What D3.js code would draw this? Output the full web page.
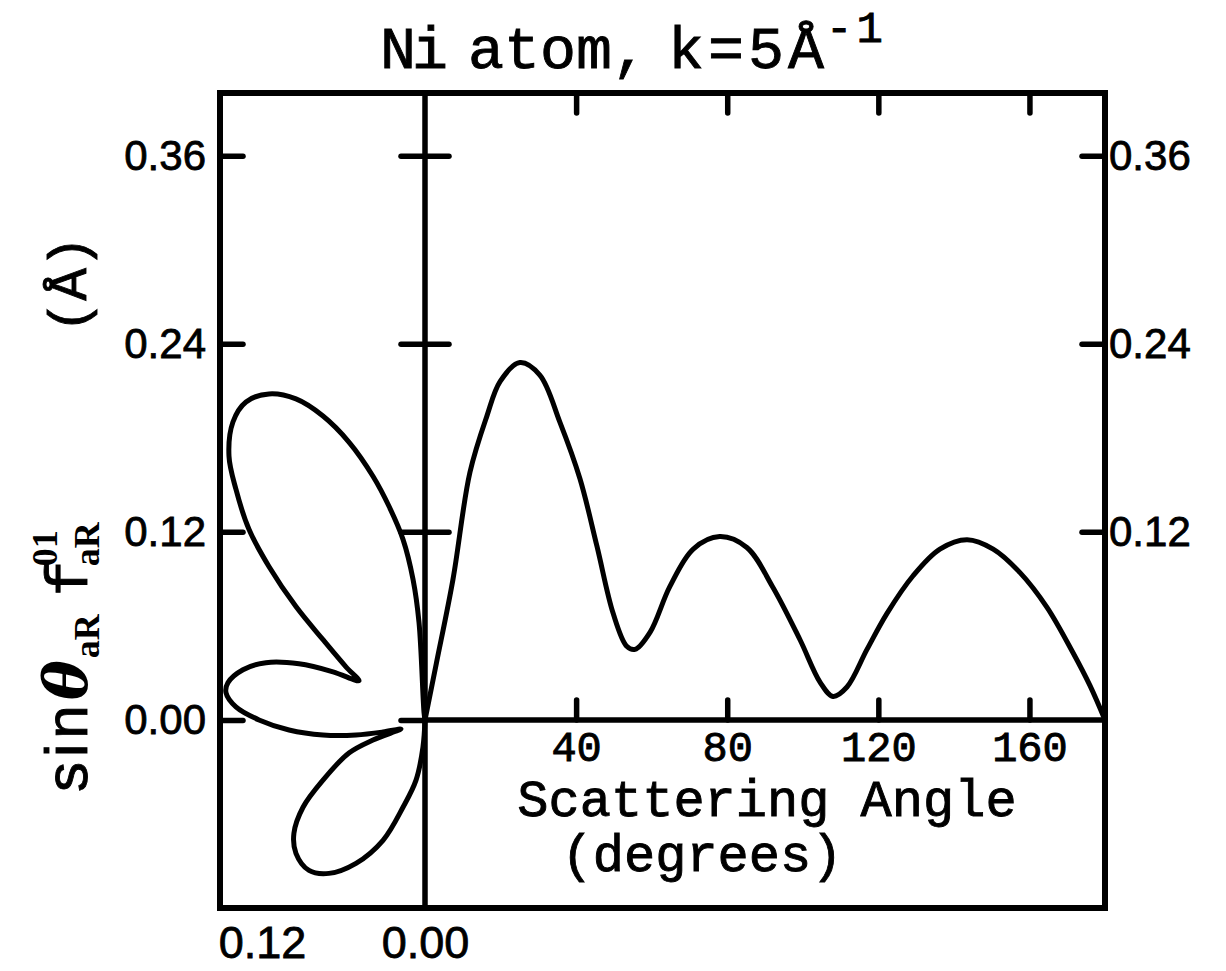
<!DOCTYPE html>
<html>
<head>
<meta charset="utf-8">
<script src="https://cdn.jsdelivr.net/npm/d3@7"></script>
<style>
  body { margin: 0; background: #fff; }
  svg { display: block; }
  .serif { font-family: "Liberation Mono", monospace; stroke: #000; stroke-width: 0.9; }
  .num { font-family: "Liberation Sans", sans-serif; stroke: #000; stroke-width: 0.8; }
</style>
</head>
<body>
<figure id="chart" style="margin:0"></figure>
<script>
// scattering angle (deg) vs sin(theta) f (Angstrom)
const angles = [0, 3, 7.4, 11.9, 16.4, 19.9, 25.1, 30.4, 35.7, 41, 45.5, 49.8, 53.4, 55.6, 59.6,
  64.8, 71, 78, 85.2, 92, 99.3, 104.6, 108, 111.7, 117, 122.3, 129.2, 136.3, 143.5, 150.4,
  157.5, 164.6, 171.5, 176, 180];
const values = [0, 0.036, 0.0896, 0.158, 0.194, 0.216, 0.228, 0.220, 0.190, 0.154, 0.111, 0.068, 0.047, 0.045, 0.056,
  0.085, 0.109, 0.117, 0.110, 0.085, 0.051, 0.024, 0.015, 0.021, 0.045, 0.068, 0.092, 0.109, 0.115, 0.109,
  0.094, 0.072, 0.043, 0.022, 0];

// polar plot of the same amplitude (horizontal / vertical components, Angstrom)
const polarX = [0, 0.0007, 0.0044, 0.0088, 0.0162, 0.0265, 0.0383, 0.0560, 0.0751, 0.0950, 0.1149, 0.1318,
  0.1414, 0.1443, 0.1392, 0.1296, 0.1149, 0.0950, 0.0751, 0.0582, 0.0486,
  0.0677, 0.0928, 0.1171, 0.1340, 0.1451, 0.1465, 0.1392, 0.1222, 0.1001, 0.0751, 0.0508, 0.0309, 0.0177,
  0.0383, 0.0560, 0.0751, 0.0898, 0.0965, 0.0950, 0.0854, 0.0707, 0.0508, 0.0309, 0.0162, 0.0066, 0.0015, 0];
const polarY = [0, 0.0045, 0.0621, 0.0896, 0.1152, 0.1363, 0.1555, 0.1773, 0.1939, 0.2048, 0.2080, 0.2029,
  0.1901, 0.1683, 0.1472, 0.1216, 0.0979, 0.0723, 0.0512, 0.0339, 0.0250,
  0.0307, 0.0358, 0.0365, 0.0320, 0.0237, 0.0173, 0.0083, 0, -0.0064, -0.0096, -0.0096, -0.0077, -0.0058,
  -0.0128, -0.0211, -0.0384, -0.0557, -0.0723, -0.0851, -0.0960, -0.0979, -0.0915, -0.0768, -0.0557, -0.0384, -0.0173, 0];

const yTicks = [0, 0.12, 0.24, 0.36];
const xTicks = [40, 80, 120, 160];
const polarTicks = [0.12, 0];

const W = 1226, H = 971;
const fLeft = 220, fRight = 1105, fTop = 93, fBottom = 908, mid = 425;

const svg = d3.select("#chart").append("svg")
  .attr("width", W).attr("height", H);

const x = d3.scaleLinear().domain([0, 180]).range([mid, fRight]);
const xL = d3.scaleLinear().domain([0, 0.12]).range([mid, 262]);
const y = d3.scaleLinear().domain([-0.12, 0.4]).range([fBottom, fTop]);

function clean(g) {
  g.select(".domain").remove();
  g.selectAll(".tick line").attr("stroke", "#000").attr("stroke-width", 5.5).attr("stroke-linecap", "round");
  g.selectAll("text").attr("fill", "#000");
}

// left frame ticks + labels
svg.append("g").attr("transform", `translate(${fLeft},0)`)
  .call(d3.axisLeft(y).tickValues(yTicks).tickSizeInner(-23).tickSizeOuter(0).tickPadding(14)
    .tickFormat(d3.format(".2f")))
  .call(clean)
  .selectAll("text").attr("class", "num").attr("font-size", 42);

// right frame ticks + labels
svg.append("g").attr("transform", `translate(${fRight},0)`)
  .call(d3.axisRight(y).tickValues(yTicks.slice(1)).tickSizeInner(-23).tickSizeOuter(0).tickPadding(4)
    .tickFormat(d3.format(".2f")))
  .call(clean)
  .selectAll("text").attr("class", "num").attr("font-size", 42);

// ticks on the middle axis
svg.append("g").attr("transform", `translate(${mid},0)`)
  .call(d3.axisLeft(y).tickValues(yTicks).tickSize(24).tickFormat(""))
  .call(clean);
svg.append("g").attr("transform", `translate(${mid},0)`)
  .call(d3.axisRight(y).tickValues(yTicks.slice(1)).tickSize(24).tickFormat(""))
  .call(clean);

// top frame ticks
svg.append("g").attr("transform", `translate(0,${fTop})`)
  .call(d3.axisTop(x).tickValues(xTicks).tickSizeInner(-20).tickFormat(""))
  .call(clean);

// angle axis at zero
svg.append("g").attr("transform", `translate(0,${y(0)})`)
  .call(d3.axisBottom(x).tickValues(xTicks).tickSizeInner(-20).tickPadding(11).tickFormat(d3.format("d")))
  .call(clean)
  .selectAll("text").attr("class", "serif").attr("font-size", 42);

// polar scale labels under the frame
svg.append("g").attr("transform", `translate(0,${fBottom})`)
  .call(d3.axisBottom(xL).tickValues(polarTicks).tickSize(0).tickPadding(18).tickFormat(d3.format(".2f")))
  .call(clean)
  .selectAll("text").attr("class", "num").attr("font-size", 45);

// frame and axes lines
svg.append("rect").attr("x", fLeft).attr("y", fTop)
  .attr("width", fRight - fLeft).attr("height", fBottom - fTop)
  .attr("fill", "none").attr("stroke", "#000").attr("stroke-width", 6);
svg.append("line").attr("x1", mid).attr("x2", mid).attr("y1", fTop).attr("y2", fBottom)
  .attr("stroke", "#000").attr("stroke-width", 5.5);
svg.append("line").attr("x1", mid).attr("x2", fRight).attr("y1", y(0)).attr("y2", y(0))
  .attr("stroke", "#000").attr("stroke-width", 5.5);

// curves
const curveData = angles.map((a, i) => [a, values[i]]);
svg.append("path").datum(curveData)
  .attr("fill", "none").attr("stroke", "#000").attr("stroke-width", 5)
  .attr("stroke-linejoin", "round")
  .attr("d", d3.line().x(d => x(d[0])).y(d => y(d[1])).curve(d3.curveCatmullRom.alpha(0.5)));

const polarData = polarX.map((v, i) => [v, polarY[i]]);
svg.append("path").datum(polarData)
  .attr("fill", "none").attr("stroke", "#000").attr("stroke-width", 5)
  .attr("stroke-linejoin", "round")
  .attr("d", d3.line().x(d => xL(d[0])).y(d => y(d[1])).curve(d3.curveCatmullRom.alpha(0.5)));

// title
const title = svg.append("text").attr("class", "serif").attr("y", 68).attr("font-size", 60);
title.append("tspan").attr("x", 380).attr("letter-spacing", -4).text("Ni");
title.append("tspan").attr("x", 468).text("atom,");
title.append("tspan").attr("x", 668).attr("letter-spacing", 4).text("k=5Å");
title.append("tspan").attr("x", 826).attr("font-size", 44).attr("letter-spacing", 4)
  .attr("dy", -26).text("-1");

// x axis title
svg.append("text").attr("class", "serif").attr("x", 767).attr("y", 816)
  .attr("text-anchor", "middle").attr("font-size", 52).text("Scattering Angle");
svg.append("text").attr("class", "serif").attr("x", 702).attr("y", 871)
  .attr("text-anchor", "middle").attr("font-size", 52).text("(degrees)");

// y axis title
const yl = svg.append("text").attr("transform", "translate(87,792) rotate(-90)")
  .attr("font-size", 60);
yl.append("tspan").attr("font-family", "Liberation Sans").attr("letter-spacing", 5)
  .attr("stroke", "#000").attr("stroke-width", 0.9).text("sin");
yl.append("tspan").attr("font-family", "DejaVu Serif").attr("font-style", "italic").attr("font-weight", "bold").text("θ");
yl.append("tspan").attr("font-family", "Liberation Serif").attr("font-weight", "bold")
  .attr("font-size", 36).attr("dx", 2).attr("dy", 12).text("aR");
yl.append("tspan").attr("font-family", "Liberation Mono").attr("class", "serif")
  .attr("dx", 18).attr("dy", -12).text("f");
yl.append("tspan").attr("font-family", "Liberation Serif").attr("font-weight", "bold")
  .attr("font-size", 36).attr("dx", -6).attr("dy", -30).text("01");
yl.append("tspan").attr("font-family", "Liberation Serif").attr("font-weight", "bold")
  .attr("font-size", 36).attr("dx", -36).attr("dy", 42).text("aR");

svg.append("text").attr("transform", "translate(86,333) rotate(-90)")
  .attr("class", "serif").attr("font-size", 54).text("(Å)");
</script>
</body>
</html>
